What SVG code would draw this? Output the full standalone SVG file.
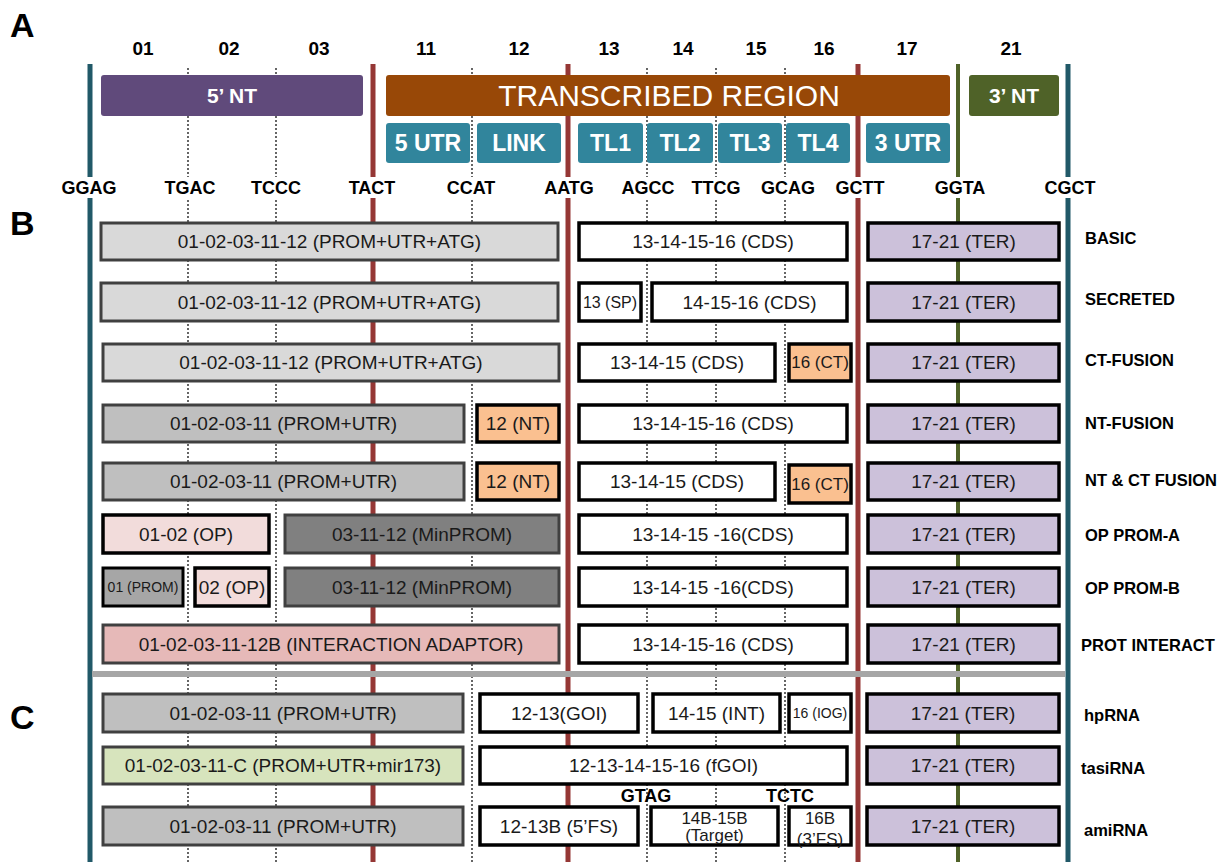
<svg xmlns="http://www.w3.org/2000/svg" width="1230" height="862" viewBox="0 0 1230 862">
<style>
text{font-family:"Liberation Sans",Arial,sans-serif;}
.sec{font-size:34px;font-weight:bold;fill:#000}
.col{font-size:19px;font-weight:bold;text-anchor:middle;fill:#000}
.jn{font-size:18px;font-weight:bold;text-anchor:middle;fill:#000}
.hw{font-weight:bold;fill:#fff;text-anchor:middle}
.t{font-size:19px;text-anchor:middle;fill:#1a1a1a}
.s16{font-size:16px}
.s17{font-size:17px}
.s14{font-size:14px}
.lab{font-size:16.5px;font-weight:bold;fill:#000}
.b1{fill:#d9d9d9;stroke:#404040;stroke-width:3}
.b2{fill:#bfbfbf;stroke:#404040;stroke-width:3}
.cds{fill:#fff;stroke:#000;stroke-width:3.5}
.ter{fill:#ccc1da;stroke:#000;stroke-width:3.5}
.org{fill:#fac090;stroke:#000;stroke-width:3.5}
.pink{fill:#f2dcdb;stroke:#000;stroke-width:3.5}
.minp{fill:#808080;stroke:#404040;stroke-width:3}
.prom{fill:#a6a6a6;stroke:#000;stroke-width:3}
.adapt{fill:#e6b9b8;stroke:#404040;stroke-width:3}
.grn{fill:#d7e4bd;stroke:#404040;stroke-width:3}
.teal{stroke:#215968;stroke-width:5}
.red{stroke:#953735;stroke-width:5}
.olive{stroke:#4f6228;stroke-width:4}
.dot{stroke:#000;stroke-width:1.2;stroke-dasharray:2 2}
.tb{fill:#31859c}
</style>

<!-- guide lines -->
<g id="connectors">
  <line class="dot" x1="188" y1="68" x2="188" y2="862"/>
  <line class="dot" x1="276" y1="68" x2="276" y2="862"/>
  <line class="dot" x1="472" y1="68" x2="472" y2="862"/>
  <line class="dot" x1="647" y1="68" x2="647" y2="862"/>
  <line class="dot" x1="716" y1="68" x2="716" y2="862"/>
  <line class="dot" x1="785" y1="68" x2="785" y2="862"/>
  <line class="teal" x1="90" y1="64" x2="90" y2="862"/>
  <line class="teal" x1="1068" y1="64" x2="1068" y2="862"/>
  <line class="red" x1="373" y1="64" x2="373" y2="862"/>
  <line class="red" x1="568" y1="64" x2="568" y2="862"/>
  <line class="red" x1="858" y1="64" x2="858" y2="862"/>
  <line class="olive" x1="958" y1="64" x2="958" y2="862"/>
  <rect x="50" y="177" width="1070" height="21" fill="#fff"/>
  <rect x="92" y="671" width="973" height="6" fill="#a6a6a6"/>
</g>

<!-- section letters -->
<text class="sec" x="10" y="37">A</text>
<text class="sec" x="10" y="235">B</text>
<text class="sec" x="10" y="729">C</text>

<!-- column numbers -->
<g id="columns">
  <text class="col" x="143" y="55">01</text>
  <text class="col" x="229" y="55">02</text>
  <text class="col" x="319" y="55">03</text>
  <text class="col" x="426" y="55">11</text>
  <text class="col" x="519" y="55">12</text>
  <text class="col" x="609" y="55">13</text>
  <text class="col" x="683" y="55">14</text>
  <text class="col" x="756" y="55">15</text>
  <text class="col" x="824" y="55">16</text>
  <text class="col" x="907" y="55">17</text>
  <text class="col" x="1011" y="55">21</text>
</g>

<!-- header boxes -->
<g id="n-5nt"><rect x="101" y="75" width="262" height="41" rx="3" fill="#604a7b"/><text class="hw" x="232" y="103" font-size="21">5’ NT</text></g>
<g id="n-transcribed"><rect x="386" y="75" width="564" height="41" rx="3" fill="#984807"/><text x="669" y="106" font-size="30" fill="#fff" text-anchor="middle">TRANSCRIBED REGION</text></g>
<g id="n-3nt"><rect x="969" y="75" width="90" height="41" rx="3" fill="#4f6228"/><text class="hw" x="1014" y="103" font-size="21">3’ NT</text></g>
<g id="n-5utr"><rect class="tb" x="386" y="123" width="84" height="40" rx="3"/><text class="hw" x="428" y="151" font-size="23">5 UTR</text></g>
<g id="n-link"><rect class="tb" x="477" y="123" width="84" height="40" rx="3"/><text class="hw" x="519" y="151" font-size="23">LINK</text></g>
<g id="n-tl1"><rect class="tb" x="578" y="123" width="65" height="40" rx="3"/><text class="hw" x="610.5" y="151" font-size="23">TL1</text></g>
<g id="n-tl2"><rect class="tb" x="647" y="123" width="66" height="40" rx="3"/><text class="hw" x="680" y="151" font-size="23">TL2</text></g>
<g id="n-tl3"><rect class="tb" x="718" y="123" width="64" height="40" rx="3"/><text class="hw" x="750" y="151" font-size="23">TL3</text></g>
<g id="n-tl4"><rect class="tb" x="786" y="123" width="64" height="40" rx="3"/><text class="hw" x="818" y="151" font-size="23">TL4</text></g>
<g id="n-3utr"><rect class="tb" x="866" y="123" width="84" height="40" rx="3"/><text class="hw" x="908" y="151" font-size="23">3 UTR</text></g>

<!-- junction labels -->
<g id="junctions">
  <text class="jn" x="89" y="194">GGAG</text>
  <text class="jn" x="190" y="194">TGAC</text>
  <text class="jn" x="276" y="194">TCCC</text>
  <text class="jn" x="372" y="194">TACT</text>
  <text class="jn" x="471" y="194">CCAT</text>
  <text class="jn" x="569" y="194">AATG</text>
  <text class="jn" x="648" y="194">AGCC</text>
  <text class="jn" x="716" y="194">TTCG</text>
  <text class="jn" x="788" y="194">GCAG</text>
  <text class="jn" x="860" y="194">GCTT</text>
  <text class="jn" x="960" y="194">GGTA</text>
  <text class="jn" x="1070" y="194">CGCT</text>
</g>

<!-- B rows -->
<g id="row-basic">
  <rect class="b1" x="101" y="223" width="457" height="37"/><text class="t" x="329.5" y="248">01-02-03-11-12 (PROM+UTR+ATG)</text>
  <rect class="cds" x="579" y="223" width="268" height="37"/><text class="t" x="713" y="248">13-14-15-16 (CDS)</text>
  <rect class="ter" x="868" y="223" width="191" height="37"/><text class="t" x="963.5" y="248">17-21 (TER)</text>
  <text class="lab" x="1085" y="244">BASIC</text>
</g>
<g id="row-secreted">
  <rect class="b1" x="101" y="283" width="457" height="38"/><text class="t" x="329.5" y="309">01-02-03-11-12 (PROM+UTR+ATG)</text>
  <rect class="cds" x="579" y="283" width="62" height="38"/><text class="t s16" x="610" y="308">13 (SP)</text>
  <rect class="cds" x="652" y="283" width="195" height="38"/><text class="t" x="749.5" y="309">14-15-16 (CDS)</text>
  <rect class="ter" x="868" y="283" width="191" height="38"/><text class="t" x="963.5" y="309">17-21 (TER)</text>
  <text class="lab" x="1085" y="305">SECRETED</text>
</g>
<g id="row-ctfusion">
  <rect class="b1" x="103" y="344" width="456" height="37"/><text class="t" x="331" y="369">01-02-03-11-12 (PROM+UTR+ATG)</text>
  <rect class="cds" x="579" y="344" width="196" height="37"/><text class="t" x="677" y="369">13-14-15 (CDS)</text>
  <rect class="org" x="789" y="344" width="62" height="37"/><text class="t s17" x="820" y="368">16 (CT)</text>
  <rect class="ter" x="868" y="344" width="191" height="37"/><text class="t" x="963.5" y="369">17-21 (TER)</text>
  <text class="lab" x="1085" y="366">CT-FUSION</text>
</g>
<g id="row-ntfusion">
  <rect class="b2" x="103" y="405" width="361" height="37"/><text class="t" x="283.5" y="430">01-02-03-11 (PROM+UTR)</text>
  <rect class="org" x="477" y="405" width="82" height="37"/><text class="t" x="518" y="430">12 (NT)</text>
  <rect class="cds" x="579" y="405" width="268" height="37"/><text class="t" x="713" y="430">13-14-15-16 (CDS)</text>
  <rect class="ter" x="868" y="405" width="191" height="37"/><text class="t" x="963.5" y="430">17-21 (TER)</text>
  <text class="lab" x="1085" y="429">NT-FUSION</text>
</g>
<g id="row-ntct">
  <rect class="b2" x="103" y="463" width="361" height="37"/><text class="t" x="283.5" y="488">01-02-03-11 (PROM+UTR)</text>
  <rect class="org" x="477" y="463" width="82" height="37"/><text class="t" x="518" y="488">12 (NT)</text>
  <rect class="cds" x="579" y="463" width="196" height="37"/><text class="t" x="677" y="488">13-14-15 (CDS)</text>
  <rect class="org" x="789" y="465" width="62" height="38"/><text class="t s17" x="820" y="490">16 (CT)</text>
  <rect class="ter" x="868" y="463" width="191" height="37"/><text class="t" x="963.5" y="488">17-21 (TER)</text>
  <text class="lab" x="1085" y="486">NT &amp; CT FUSION</text>
</g>
<g id="row-oppromA">
  <rect class="pink" x="103" y="515" width="166" height="38"/><text class="t" x="186" y="541">01-02 (OP)</text>
  <rect class="minp" x="285" y="515" width="274" height="38"/><text class="t" x="422" y="541">03-11-12 (MinPROM)</text>
  <rect class="cds" x="579" y="515" width="268" height="38"/><text class="t" x="713" y="541">13-14-15 -16(CDS)</text>
  <rect class="ter" x="868" y="515" width="191" height="38"/><text class="t" x="963.5" y="541">17-21 (TER)</text>
  <text class="lab" x="1085" y="541">OP PROM-A</text>
</g>
<g id="row-oppromB">
  <rect class="prom" x="103" y="568" width="80" height="38"/><text class="t s14" x="143" y="592">01 (PROM)</text>
  <rect class="pink" x="195" y="568" width="74" height="38"/><text class="t" x="232" y="594">02 (OP)</text>
  <rect class="minp" x="285" y="568" width="274" height="38"/><text class="t" x="422" y="594">03-11-12 (MinPROM)</text>
  <rect class="cds" x="579" y="568" width="268" height="38"/><text class="t" x="713" y="594">13-14-15 -16(CDS)</text>
  <rect class="ter" x="868" y="568" width="191" height="38"/><text class="t" x="963.5" y="594">17-21 (TER)</text>
  <text class="lab" x="1085" y="594">OP PROM-B</text>
</g>
<g id="row-protinteract">
  <rect class="adapt" x="103" y="625" width="456" height="38"/><text class="t" x="331" y="651">01-02-03-11-12B (INTERACTION ADAPTOR)</text>
  <rect class="cds" x="579" y="625" width="268" height="38"/><text class="t" x="713" y="651">13-14-15-16 (CDS)</text>
  <rect class="ter" x="868" y="625" width="191" height="38"/><text class="t" x="963.5" y="651">17-21 (TER)</text>
  <text class="lab" x="1081" y="651">PROT INTERACT</text>
</g>

<!-- C rows -->
<g id="row-hprna">
  <rect class="b2" x="103" y="694" width="360" height="38"/><text class="t" x="283" y="720">01-02-03-11 (PROM+UTR)</text>
  <rect class="cds" x="480" y="694" width="158" height="38"/><text class="t" x="559" y="720">12-13(GOI)</text>
  <rect class="cds" x="653" y="694" width="127" height="38"/><text class="t" x="716.5" y="720">14-15 (INT)</text>
  <rect class="cds" x="789" y="694" width="62" height="38"/><text class="t s14" x="820" y="718">16 (IOG)</text>
  <rect class="ter" x="867" y="694" width="192" height="38"/><text class="t" x="963" y="720">17-21 (TER)</text>
  <text class="lab" x="1084" y="721">hpRNA</text>
</g>
<g id="row-tasirna">
  <rect class="grn" x="103" y="747" width="360" height="37"/><text class="t" x="283" y="772">01-02-03-11-C (PROM+UTR+mir173)</text>
  <rect class="cds" x="480" y="747" width="367" height="37"/><text class="t" x="663.5" y="772">12-13-14-15-16 (fGOI)</text>
  <rect class="ter" x="867" y="747" width="192" height="37"/><text class="t" x="963" y="772">17-21 (TER)</text>
  <text class="lab" x="1081" y="774">tasiRNA</text>
</g>
<g id="row-amirna">
  <text class="jn" x="646" y="802">GTAG</text>
  <text class="jn" x="790" y="802">TCTC</text>
  <rect class="b2" x="103" y="807" width="360" height="38"/><text class="t" x="283" y="833">01-02-03-11 (PROM+UTR)</text>
  <rect class="cds" x="480" y="807" width="158" height="38"/><text class="t" x="559" y="833">12-13B (5’FS)</text>
  <rect class="cds" x="651" y="807" width="127" height="38"/><text class="t s17" x="714.5" y="824">14B-15B</text><text class="t s17" x="714.5" y="841">(Target)</text>
  <rect class="cds" x="789" y="807" width="62" height="38"/><text class="t s17" x="820" y="824">16B</text><text class="t s17" x="820" y="845">(3’FS)</text>
  <rect class="ter" x="867" y="807" width="192" height="38"/><text class="t" x="963" y="833">17-21 (TER)</text>
  <text class="lab" x="1084" y="836">amiRNA</text>
</g>
</svg>
